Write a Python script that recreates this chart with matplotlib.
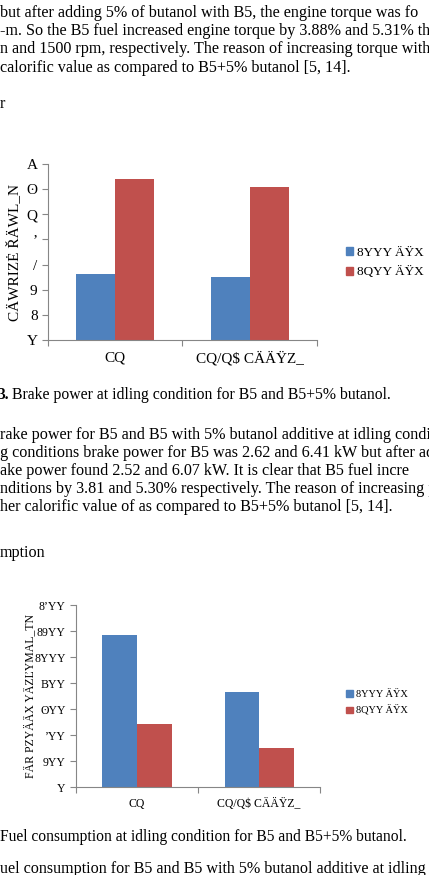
# Page fragment with two grouped bar charts (brake power / fuel consumption)
import matplotlib.pyplot as plt
import numpy as np
from matplotlib.patches import Patch

# Data
categories = ["CQ", "CQ/Q$ CÄÄŸZ_"]
series_names = ["8YYY ÄŸX", "8QYY ÄŸX"]
power_1000 = [2.62, 2.52]
power_1500 = [6.41, 6.07]
fuel_1000 = [1170, 730]
fuel_1500 = [490, 300]
power_ticks = [0, 1, 2, 3, 4, 5, 6, 7]
power_tick_labels = ["Y", "8", "9", "/", "ʼ", "Q", "ʘ", "A"]
fuel_ticks = [0, 200, 400, 600, 800, 1000, 1200, 1400]
fuel_tick_labels = ["Y", "9YY", "ʼYY", "ʘYY", "BYY", "8YYY", "89YY", "8ʼYY"]
power_ylabel = "CÄWRIZĖ ŘÄWL_N"
fuel_ylabel = "FÄR PZYÄÄX YÄZĽYMAL_TN"

blue = "#4f81bd"
red = "#c0504d"
grey = "#868686"
serif = ["Liberation Serif", "DejaVu Serif", "DejaVu Sans"]

fig = plt.figure(figsize=(4.29, 8.75), dpi=100)


def bar_chart(rect, v1, v2, width, ticks, tick_labels, ylabel, fs, ylab_x, leg_pos, leg_fs):
    ax = fig.add_axes(rect)
    x = np.arange(len(categories))
    ax.bar(x - width / 2, v1, width, color=blue)
    ax.bar(x + width / 2, v2, width, color=red)
    ax.set_xlim(-0.5, len(categories) - 0.5)
    ax.set_ylim(ticks[0], ticks[-1])
    ax.set_yticks(ticks)
    ax.set_yticklabels(tick_labels, family=serif, fontsize=fs)
    ax.set_xticks([-0.5, 0.5, 1.5])
    ax.set_xticklabels([])
    ax.set_xticks(x, minor=True)
    ax.set_xticklabels(categories, minor=True, family=serif, fontsize=fs)
    ax.tick_params(axis="x", which="minor", length=0, pad=8)
    ax.tick_params(axis="both", which="major", color=grey, length=4)
    for s in ["top", "right"]:
        ax.spines[s].set_visible(False)
    for s in ["left", "bottom"]:
        ax.spines[s].set_color(grey)
    fig.text(ylab_x, rect[1] + rect[3] / 2, ylabel, rotation=90, ha="center",
             va="center", family=serif, fontsize=fs)
    handles = [Patch(color=blue), Patch(color=red)]
    fig.legend(handles, series_names, loc="center left", bbox_to_anchor=leg_pos,
               frameon=False, handlelength=0.6, handleheight=0.6,
               handletextpad=0.3, labelspacing=0.6, borderpad=0,
               prop={"family": serif, "size": leg_fs})
    return ax


bar_chart([0.1119, 0.6114, 0.627, 0.2011], power_1000, power_1500, 0.29,
          power_ticks, power_tick_labels, power_ylabel, 11, 0.032, (0.79, 0.700), 9.5)
bar_chart([0.1772, 0.1002, 0.5688, 0.2083], fuel_1000, fuel_1500, 0.283,
          fuel_ticks, fuel_tick_labels, fuel_ylabel, 8.5, 0.07, (0.795, 0.1966), 7.5)

# Surrounding page text
body = [
    (13, "but after adding 5% of butanol with B5, the engine torque was fo"),
    (31, "-m. So the B5 fuel increased engine torque by 3.88% and 5.31% th"),
    (49, "n and 1500 rpm, respectively. The reason of increasing torque with"),
    (68, "calorific value as compared to B5+5% butanol [5, 14]."),
    (104, "r"),
    (435, "rake power for B5 and B5 with 5% butanol additive at idling conditi"),
    (453, "g conditions brake power for B5 was 2.62 and 6.41 kW but after add"),
    (471, "ake power found 2.52 and 6.07 kW. It is clear that B5 fuel incre"),
    (489, "nditions by 3.81 and 5.30% respectively. The reason of increasing p"),
    (507, "her calorific value of as compared to B5+5% butanol [5, 14]."),
    (553, "mption"),
    (869, "uel consumption for B5 and B5 with 5% butanol additive at idling c"),
]
for y, line in body:
    fig.text(0.0, 1 - y / 875, line, ha="left", va="center", family=serif, fontsize=11.6)

fig.text(-0.005, 1 - 395 / 875, "3.", ha="left", va="center", family=serif,
         fontsize=11.2, weight="bold")
fig.text(12 / 429, 1 - 395 / 875, "Brake power at idling condition for B5 and B5+5% butanol.",
         ha="left", va="center", family=serif, fontsize=11.3)
fig.text(0.0, 1 - 837 / 875, "Fuel consumption at idling condition for B5 and B5+5% butanol.",
         ha="left", va="center", family=serif, fontsize=11.2)

fig.savefig("out.png", dpi=100)
